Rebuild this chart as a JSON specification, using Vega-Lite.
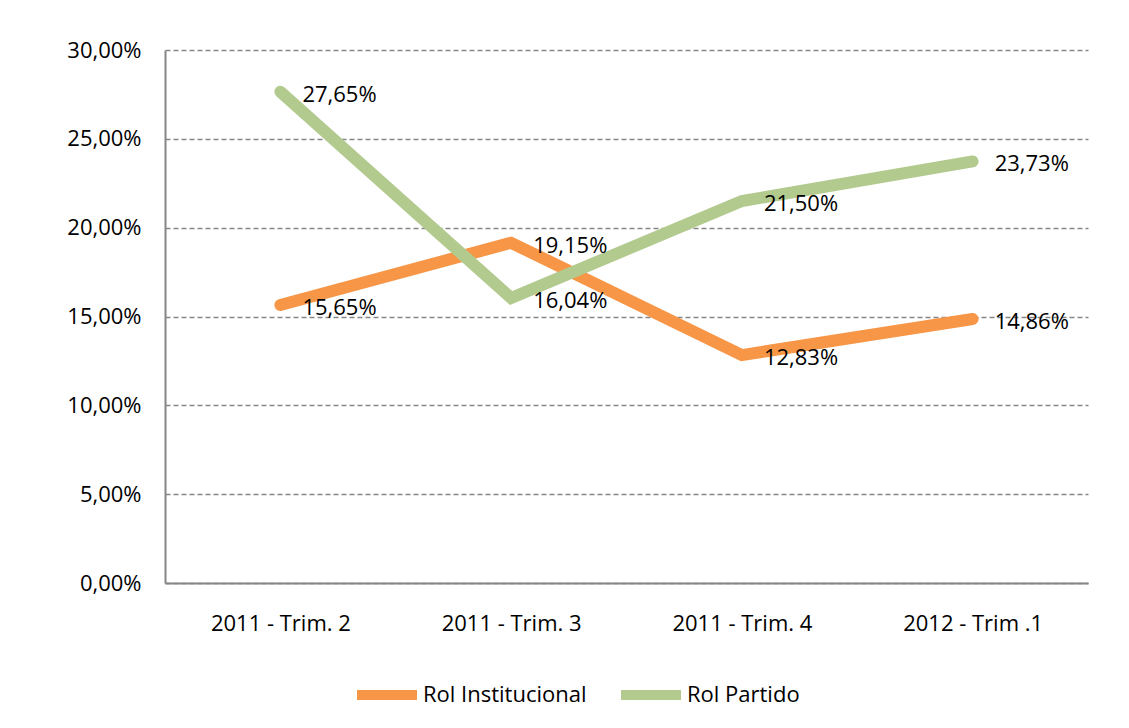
{
  "$schema": "https://vega.github.io/schema/vega-lite/v6.json",
  "autosize": "none",
  "width": 923,
  "height": 533,
  "padding": {"left": 165, "top": 50, "right": 41, "bottom": 145},
  "background": "white",
  "config": {
    "locale": {"number": {"decimal": ",", "thousands": ".", "grouping": [3], "currency": ["", " €"]}},
    "font": "Open Sans",
    "view": {"stroke": null},
    "axis": {"labelFont": "Open Sans", "labelFontSize": 22, "labelColor": "#000000", "ticks": false, "title": null, "domainColor": "#868686", "domainWidth": 2},
    "legend": {"labelFont": "Open Sans", "labelFontSize": 22, "labelColor": "#000000", "labelLimit": 400}
  },
  "data": {
    "values": [
      {"trim": "2011 - Trim. 2", "serie": "Rol Institucional", "valor": 0.1565},
      {"trim": "2011 - Trim. 3", "serie": "Rol Institucional", "valor": 0.1915},
      {"trim": "2011 - Trim. 4", "serie": "Rol Institucional", "valor": 0.1283},
      {"trim": "2012 - Trim .1", "serie": "Rol Institucional", "valor": 0.1486},
      {"trim": "2011 - Trim. 2", "serie": "Rol Partido", "valor": 0.2765},
      {"trim": "2011 - Trim. 3", "serie": "Rol Partido", "valor": 0.1604},
      {"trim": "2011 - Trim. 4", "serie": "Rol Partido", "valor": 0.2150},
      {"trim": "2012 - Trim .1", "serie": "Rol Partido", "valor": 0.2373}
    ]
  },
  "encoding": {
    "x": {"field": "trim", "type": "ordinal", "sort": null,
      "axis": {"labelAngle": 0, "labelPadding": 30, "grid": false}},
    "y": {"field": "valor", "type": "quantitative",
      "scale": {"domain": [0, 0.3], "nice": false},
      "axis": {"values": [0, 0.05, 0.1, 0.15, 0.2, 0.25, 0.3], "format": ".2%", "labelPadding": 24,
        "grid": true, "gridColor": "#868686", "gridDash": [5, 3], "gridWidth": 1.5}}
  },
  "layer": [
    {
      "mark": {"type": "line", "strokeWidth": 12, "strokeCap": "round", "strokeJoin": "miter"},
      "encoding": {
        "color": {"field": "serie", "type": "nominal",
          "scale": {"domain": ["Rol Institucional", "Rol Partido"], "range": ["#F79646", "#B3CA8F"]},
          "legend": {"title": null, "orient": "none", "direction": "horizontal", "legendX": 187, "legendY": 610,
            "symbolType": "stroke", "symbolSize": 3600, "symbolStrokeWidth": 10, "labelOffset": 1, "columnPadding": 14}}
      }
    },
    {
      "mark": {"type": "text", "align": "left", "baseline": "middle", "dx": 22, "dy": 3, "fontSize": 22, "font": "Open Sans", "color": "#000000"},
      "encoding": {
        "text": {"field": "valor", "type": "quantitative", "format": ".2%"}
      }
    }
  ]
}
